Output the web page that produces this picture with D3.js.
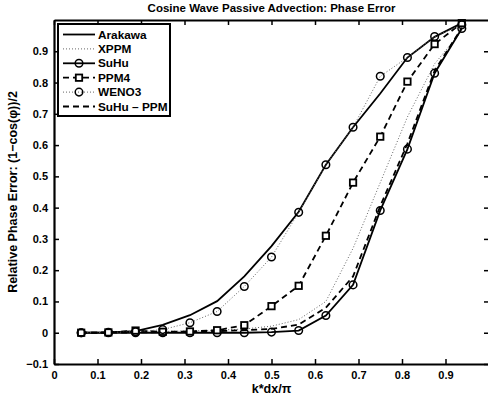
<!DOCTYPE html>
<html>
<head>
<meta charset="utf-8">
<script src="https://cdn.jsdelivr.net/npm/d3@7"></script>
<style>
  body { margin: 0; background: #fff; }
  svg { font-family: "Liberation Sans", Arial, sans-serif; font-weight: bold; }
</style>
</head>
<body>
<svg id="chart" width="488" height="398"></svg>
<script>
// k*dx/pi sample points
const kdx = [0.0625, 0.125, 0.1875, 0.25, 0.3125, 0.375, 0.4375, 0.5, 0.5625, 0.625, 0.6875, 0.75, 0.8125, 0.875, 0.9375];

// relative phase error for each scheme
const arakawa = [0, 0.001, 0.005, 0.025, 0.056, 0.101, 0.18, 0.277, 0.387, 0.537, 0.657, 0.765, 0.88, 0.946, 0.99];
const xppm    = [0, 0, 0.002, 0.004, 0.006, 0.008, 0.012, 0.021, 0.042, 0.1, 0.27, 0.48, 0.69, 0.86, 0.965];
const suhu    = [0, 0, 0, 0, 0, 0, 0, 0.002, 0.007, 0.055, 0.153, 0.391, 0.587, 0.83, 0.973];
const ppm4    = [0, 0.001, 0.007, 0.003, 0.004, 0.008, 0.024, 0.085, 0.15, 0.31, 0.48, 0.627, 0.803, 0.923, 0.99];
const weno3   = [0, 0.001, 0.003, 0.01, 0.032, 0.068, 0.148, 0.242, 0.385, 0.537, 0.657, 0.82, 0.88, 0.947, 0.985];
const suhuPpm = [0, 0, 0.001, 0.002, 0.003, 0.005, 0.008, 0.012, 0.026, 0.08, 0.18, 0.405, 0.605, 0.838, 0.975];

const xTicks = [0, 0.1, 0.2, 0.3, 0.4, 0.5, 0.6, 0.7, 0.8, 0.9];
const yTicks = [-0.1, 0, 0.1, 0.2, 0.3, 0.4, 0.5, 0.6, 0.7, 0.8, 0.9];

const mLeft = 54, mRight = 489, mTop = 20, mBottom = 364;
const fontFam = '"Liberation Sans", Arial, sans-serif';

const svg = d3.select('#chart');

const x = d3.scaleLinear().domain([0, 1]).range([mLeft, mRight]);
const y = d3.scaleLinear().domain([-0.1, 1]).range([mBottom, mTop]);

// series styles
const series = [
  { name: 'Arakawa',    values: arakawa, dash: null,  width: 1.8, color: '#000', marker: null },
  { name: 'XPPM',       values: xppm,    dash: '1,2', width: 1,   color: '#666', marker: null },
  { name: 'SuHu',       values: suhu,    dash: null,  width: 1.8, color: '#000', marker: 'circle' },
  { name: 'PPM4',       values: ppm4,    dash: '6,4', width: 1.8, color: '#000', marker: 'square' },
  { name: 'WENO3',      values: weno3,   dash: '1,2', width: 1,   color: '#666', marker: 'circle' },
  { name: 'SuHu \u2013 PPM', values: suhuPpm, dash: '6,4', width: 1.8, color: '#000', marker: null }
];

const line = d3.line()
  .x((d, i) => x(kdx[i]))
  .y(d => y(d));

function drawMarker(g, type, cx, cy) {
  if (type === 'circle') {
    g.append('circle')
      .attr('cx', cx).attr('cy', cy).attr('r', 3.8)
      .attr('fill', 'none').attr('stroke', '#000').attr('stroke-width', 1.5);
  } else if (type === 'square') {
    g.append('rect')
      .attr('x', cx - 3.2).attr('y', cy - 3.2)
      .attr('width', 6.4).attr('height', 6.4)
      .attr('fill', '#fff').attr('stroke', '#000').attr('stroke-width', 1.8);
  }
}

const plot = svg.append('g');

series.forEach(s => {
  plot.append('path')
    .datum(s.values)
    .attr('fill', 'none')
    .attr('stroke', s.color)
    .attr('stroke-width', s.width)
    .attr('stroke-dasharray', s.dash)
    .attr('d', line);
});
series.forEach(s => {
  if (!s.marker) return;
  s.values.forEach((v, i) => drawMarker(plot, s.marker, x(kdx[i]), y(v)));
});

// axes: ticks inside, on all four sides
const xAxisB = d3.axisBottom(x).tickValues(xTicks).tickSizeInner(-5).tickSizeOuter(0)
  .tickFormat(d => d === 0 ? '0' : d3.format('.1f')(d));
const yAxisL = d3.axisLeft(y).tickValues(yTicks).tickSizeInner(-5).tickSizeOuter(0)
  .tickFormat(d => d === 0 ? '0' : d3.format('.1f')(d).replace('-', '\u2212'));

const gx = svg.append('g').attr('transform', 'translate(0,' + mBottom + ')').call(xAxisB);
gx.selectAll('text').attr('dy', null).attr('y', 15);

const gy = svg.append('g').attr('transform', 'translate(' + mLeft + ',0)').call(yAxisL);
gy.selectAll('text').attr('x', -6);

const gt = svg.append('g').attr('transform', 'translate(0,' + mTop + ')')
  .call(d3.axisTop(x).tickValues(xTicks).tickSizeInner(-5).tickSizeOuter(0).tickFormat(''));
const gr = svg.append('g').attr('transform', 'translate(' + mRight + ',0)')
  .call(d3.axisRight(y).tickValues(yTicks).tickSizeInner(-5).tickSizeOuter(0).tickFormat(''));

[gx, gy, gt, gr].forEach(g => {
  g.attr('font-family', fontFam).attr('font-size', 11).attr('font-weight', 'bold');
  g.select('.domain').attr('stroke-width', 2.2);
  g.selectAll('.tick line').attr('stroke-width', 1.5);
});

// title and labels
svg.append('text')
  .attr('x', (mLeft + mRight) / 2).attr('y', 12)
  .attr('text-anchor', 'middle').attr('font-size', 11.5)
  .text('Cosine Wave Passive Advection: Phase Error');

svg.append('text')
  .attr('x', (mLeft + mRight) / 2).attr('y', 393)
  .attr('text-anchor', 'middle').attr('font-size', 12.5)
  .text('k*dx/\u03c0');

svg.append('text')
  .attr('transform', 'translate(17,' + (mTop + mBottom) / 2 + ') rotate(-90)')
  .attr('text-anchor', 'middle').attr('font-size', 12.5)
  .text('Relative Phase Error: (1\u2212cos(\u03c6))/2');

// legend
const lg = svg.append('g');
lg.append('rect')
  .attr('x', 58).attr('y', 24).attr('width', 112).attr('height', 92)
  .attr('fill', '#fff').attr('stroke', '#000').attr('stroke-width', 2);

series.forEach((s, i) => {
  const ly = 34.5 + i * 14.4;
  lg.append('line')
    .attr('x1', 63).attr('x2', 95).attr('y1', ly).attr('y2', ly)
    .attr('stroke', s.color).attr('stroke-width', s.width)
    .attr('stroke-dasharray', s.dash);
  if (s.marker) drawMarker(lg, s.marker, 79, ly);
  lg.append('text')
    .attr('x', 98).attr('y', ly + 4)
    .attr('font-size', 11.8)
    .text(s.name);
});
</script>
</body>
</html>
